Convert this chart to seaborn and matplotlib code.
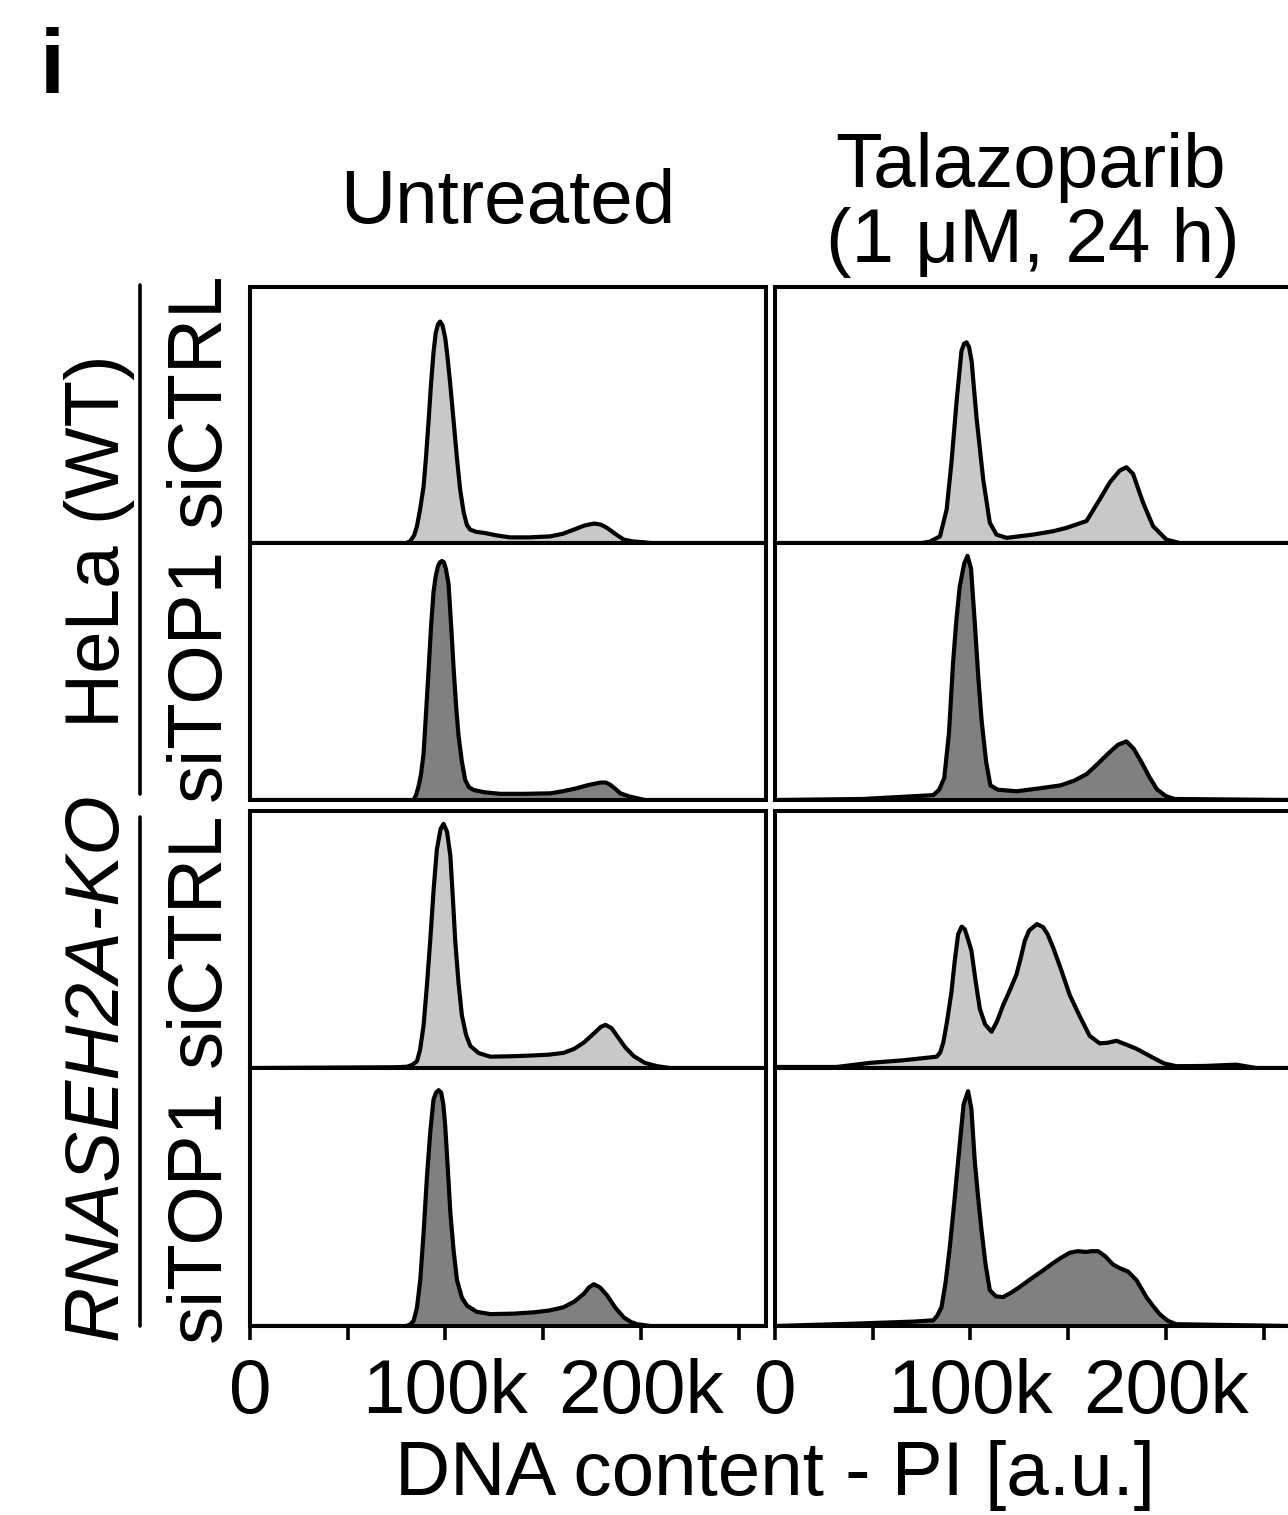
import matplotlib
matplotlib.use("Agg")
import matplotlib.pyplot as plt
from matplotlib.lines import Line2D
import seaborn as sns

# DNA content in thousands (PI, a.u.) and counts normalised to panel height,
# read off each histogram of the figure
unt_wt_ctrl_x = [0, 80, 82, 84, 85.4, 87, 88.8, 90, 91.4, 92.6, 93.9, 95, 96.2, 97.3, 98.5, 99.9,
                 101, 102.2, 103.3, 104.6, 105.9, 107.5, 109.3, 111, 112.7, 116, 119.5, 126, 133,
                 143, 153.7, 160, 165.6, 171, 175.9, 179.5, 182.7, 187, 191.3, 196, 201.5, 205, 264]
unt_wt_ctrl_y = [0, 0, 0.007, 0.03, 0.065, 0.13, 0.22, 0.33, 0.48, 0.62, 0.745, 0.82, 0.855, 0.865,
                 0.85, 0.8, 0.73, 0.64, 0.55, 0.44, 0.33, 0.21, 0.12, 0.07, 0.052, 0.043, 0.04, 0.03,
                 0.022, 0.022, 0.026, 0.036, 0.052, 0.068, 0.076, 0.072, 0.059, 0.035, 0.013, 0.006,
                 0.003, 0, 0]

unt_wt_top1_x = [0, 83.7, 85, 86.2, 87.5, 88.8, 90, 91.4, 92.6, 93.9, 95, 96.2, 97.2, 98.2, 99.2,
                 100.2, 101.6, 102.9, 104.2, 105.5, 106.7, 108.4, 110.1, 112, 114.4, 120, 128, 140,
                 153.7, 160, 167.3, 173, 179.3, 182, 184.4, 187, 189.5, 194, 198, 202, 264]
unt_wt_top1_y = [0, 0, 0.02, 0.052, 0.1, 0.18, 0.33, 0.51, 0.67, 0.81, 0.87, 0.91, 0.925, 0.93,
                 0.925, 0.9, 0.84, 0.68, 0.51, 0.36, 0.25, 0.15, 0.078, 0.05, 0.039, 0.03, 0.024,
                 0.024, 0.026, 0.034, 0.046, 0.058, 0.068, 0.068, 0.059, 0.043, 0.026, 0.014,
                 0.007, 0, 0]

unt_ko_ctrl_x = [0, 75, 80.3, 83, 85.4, 87, 88.8, 90.5, 92.2, 94, 95.6, 97.5, 99, 100.8, 102.5,
                 103.8, 105, 106.7, 108.4, 110.5, 112.7, 117, 123, 135, 145.2, 153, 160.5, 166,
                 170.8, 176, 179.5, 181.9, 185, 187.8, 192, 196.4, 202, 208.3, 215, 264]
unt_ko_ctrl_y = [0, 0.003, 0.005, 0.012, 0.026, 0.07, 0.165, 0.32, 0.495, 0.7, 0.85, 0.93, 0.95,
                 0.92, 0.826, 0.66, 0.495, 0.33, 0.205, 0.13, 0.086, 0.058, 0.044, 0.046, 0.049,
                 0.052, 0.059, 0.075, 0.099, 0.135, 0.16, 0.168, 0.155, 0.125, 0.08, 0.046, 0.02,
                 0.007, 0, 0]

unt_ko_top1_x = [0, 80, 82, 83.7, 85.4, 87.1, 88.8, 90.5, 92.2, 93.9, 95.2, 96.5, 97.8, 98.9, 99.9,
                 101.2, 102.5, 104.2, 105.9, 108.4, 111, 116, 123, 135, 145.2, 153, 160.5, 166,
                 170.8, 173.5, 175.9, 179, 182.7, 187, 191.3, 195, 198.1, 205, 264]
unt_ko_top1_y = [0, 0, 0.006, 0.02, 0.07, 0.178, 0.36, 0.575, 0.75, 0.878, 0.905, 0.914, 0.905,
                 0.86, 0.773, 0.61, 0.44, 0.29, 0.178, 0.11, 0.079, 0.055, 0.046, 0.048, 0.053,
                 0.06, 0.073, 0.095, 0.125, 0.15, 0.162, 0.15, 0.119, 0.07, 0.033, 0.015, 0.007,
                 0, 0]

tal_wt_ctrl_x = [0, 75, 79.2, 84.4, 87.8, 90.3, 92.9, 95.4, 96.7, 98, 99.3, 100.6, 103.1, 106.5,
                 109.9, 113.3, 118.5, 132.1, 142.3, 149.1, 159.4, 166.2, 171.3, 176.4, 179.8, 183.2,
                 188.3, 193.4, 200.3, 207.1, 264]
tal_wt_ctrl_y = [0, 0, 0.005, 0.026, 0.13, 0.316, 0.553, 0.75, 0.778, 0.784, 0.765, 0.71, 0.49,
                 0.25, 0.079, 0.033, 0.02, 0.033, 0.046, 0.059, 0.086, 0.171, 0.237, 0.283, 0.296,
                 0.27, 0.158, 0.066, 0.013, 0, 0]

tal_wt_top1_x = [0, 45, 81, 84, 86.6, 89, 91.1, 92.8, 94.5, 96.8, 98.5, 100.3, 102.3, 104, 105.7,
                 108, 110.2, 114, 123.6, 135, 146.1, 153, 159.5, 165, 170.8, 175.5, 179.8, 183.5,
                 187.6, 191.5, 195.4, 200, 204.4, 264]
tal_wt_top1_y = [0, 0.004, 0.019, 0.04, 0.086, 0.26, 0.534, 0.7, 0.83, 0.92, 0.95, 0.9, 0.68, 0.48,
                 0.31, 0.15, 0.057, 0.04, 0.034, 0.045, 0.057, 0.075, 0.101, 0.14, 0.183, 0.215,
                 0.228, 0.2, 0.146, 0.09, 0.042, 0.015, 0.004, 0]

tal_ko_ctrl_x = [0, 31.5, 48.6, 65.6, 82.7, 84.5, 86.1, 88, 90.3, 92, 93.7, 95.5, 97.1, 98.8, 100.5,
                 102.6, 104.8, 107.5, 110.8, 113.5, 116.7, 120, 123.5, 125.8, 127.8, 130, 132.1,
                 134, 137.2, 139.5, 142.3, 146.5, 150.8, 156, 161, 166.1, 170, 174.7, 180, 184.9,
                 189, 193.4, 199, 205.3, 220, 236, 246.2, 264]
tal_ko_ctrl_y = [0.004, 0.004, 0.02, 0.03, 0.044, 0.06, 0.099, 0.18, 0.297, 0.42, 0.52, 0.55, 0.54,
                 0.5, 0.456, 0.34, 0.23, 0.17, 0.141, 0.18, 0.244, 0.3, 0.363, 0.43, 0.495, 0.535,
                 0.548, 0.56, 0.548, 0.52, 0.469, 0.38, 0.284, 0.2, 0.125, 0.096, 0.098, 0.106,
                 0.09, 0.075, 0.058, 0.04, 0.018, 0.007, 0.008, 0.013, 0, 0]

tal_ko_top1_x = [0, 40, 70.7, 81, 83, 85.2, 87.3, 89.5, 91.6, 93.7, 96.5, 98.8, 100.5, 102.2, 103.9,
                 105.6, 107.7, 109.9, 113, 116.7, 121, 125.3, 129.5, 133.8, 138, 142.3, 146.5,
                 150.8, 155, 159.3, 162, 165.3, 169, 173, 177, 180.6, 184.9, 187.5, 190, 193.4,
                 196.8, 201, 205.3, 264]
tal_ko_top1_y = [0, 0.009, 0.017, 0.022, 0.04, 0.073, 0.17, 0.31, 0.47, 0.64, 0.86, 0.91, 0.84,
                 0.64, 0.5, 0.376, 0.24, 0.139, 0.115, 0.112, 0.13, 0.152, 0.175, 0.198, 0.22,
                 0.244, 0.265, 0.284, 0.29, 0.287, 0.29, 0.29, 0.27, 0.238, 0.222, 0.211, 0.178,
                 0.145, 0.112, 0.078, 0.046, 0.02, 0.007, 0]

treatments = ["Untreated", "Talazoparib\n(1 \u03bcM, 24 h)"]
sirnas = ["siCTRL", "siTOP1", "siCTRL", "siTOP1"]
cell_lines = ["HeLa (WT)", "RNASEH2A-KO"]
tick_values = [0, 50, 100, 150, 200, 250]
tick_labels = ["0", "", "100k", "", "200k", ""]

W, H = 1288, 1515
LIGHT, DARK = "#c8c8c8", "#808080"

sns.set_theme(style="white", rc={"text.color": "black", "xtick.color": "black",
                                 "axes.edgecolor": "black", "axes.labelcolor": "black"})
plt.rcParams["font.family"] = ["Liberation Sans", "DejaVu Sans"]

fig = plt.figure(figsize=(W / 100, H / 100), dpi=100)


def fx(px):
    return px / W


def fy(py):
    return 1 - py / H


col_x = [(250, 766), (775, 1291)]
row_y = [(287, 543), (543, 800), (811, 1068), (1068, 1326)]
panels = [
    [(unt_wt_ctrl_x, unt_wt_ctrl_y), (unt_wt_top1_x, unt_wt_top1_y),
     (unt_ko_ctrl_x, unt_ko_ctrl_y), (unt_ko_top1_x, unt_ko_top1_y)],
    [(tal_wt_ctrl_x, tal_wt_ctrl_y), (tal_wt_top1_x, tal_wt_top1_y),
     (tal_ko_ctrl_x, tal_ko_ctrl_y), (tal_ko_top1_x, tal_ko_top1_y)],
]

for c, (x0, x1) in enumerate(col_x):
    for r, (y0, y1) in enumerate(row_y):
        ax = fig.add_axes([fx(x0), fy(y1), fx(x1 - x0), (y1 - y0) / H])
        xs, ys = panels[c][r]
        fill = LIGHT if r % 2 == 0 else DARK
        ax.fill_between(xs, ys, 0, color=fill, lw=0)
        sns.lineplot(x=xs, y=ys, ax=ax, color="black", lw=3.0, sort=False,
                     solid_joinstyle="round", solid_capstyle="round")
        ax.set_xlim(0, 264)
        ax.set_ylim(0, 1)
        ax.set_yticks([])
        for sp in ax.spines.values():
            sp.set_linewidth(2.9)
            sp.set_color("black")
        if r == 3:
            ax.set_xticks(tick_values)
            ax.set_xticklabels(tick_labels)
            ax.tick_params(axis="x", direction="out", length=10, width=2.6,
                           labelsize=55, pad=13, bottom=True, color="black",
                           labelcolor="black")
        else:
            ax.set_xticks([])

# column titles
fig.text(fx(508), fy(223), treatments[0], ha="center", va="baseline", fontsize=55)
tal_lines = treatments[1].split("\n")
fig.text(fx(1031), fy(187), tal_lines[0], ha="center", va="baseline", fontsize=55)
fig.text(fx(1033), fy(262), tal_lines[1], ha="center", va="baseline", fontsize=55)

# x label
fig.text(fx(775), fy(1495), "DNA content - PI [a.u.]", ha="center", va="baseline", fontsize=55)

# row labels
for lab, yc in zip(sirnas, [400, 674, 940, 1215]):
    fig.text(fx(200), fy(yc), lab, rotation=90, ha="center", va="center", fontsize=55)

# cell line labels and brackets
fig.text(fx(100), fy(541), cell_lines[0], rotation=90, ha="center", va="center", fontsize=55)
fig.text(fx(97), fy(1066), cell_lines[1], rotation=90, ha="center", va="center",
         fontsize=55, style="italic")
fig.add_artist(Line2D([fx(140), fx(140)], [fy(285), fy(794)], color="black", lw=2.6))
fig.add_artist(Line2D([fx(140), fx(140)], [fy(817), fy(1326)], color="black", lw=2.6))

# panel letter
fig.text(fx(40), fy(93), "i", ha="left", va="baseline", fontsize=65, fontweight="bold")

fig.savefig("out.png", dpi=100)
